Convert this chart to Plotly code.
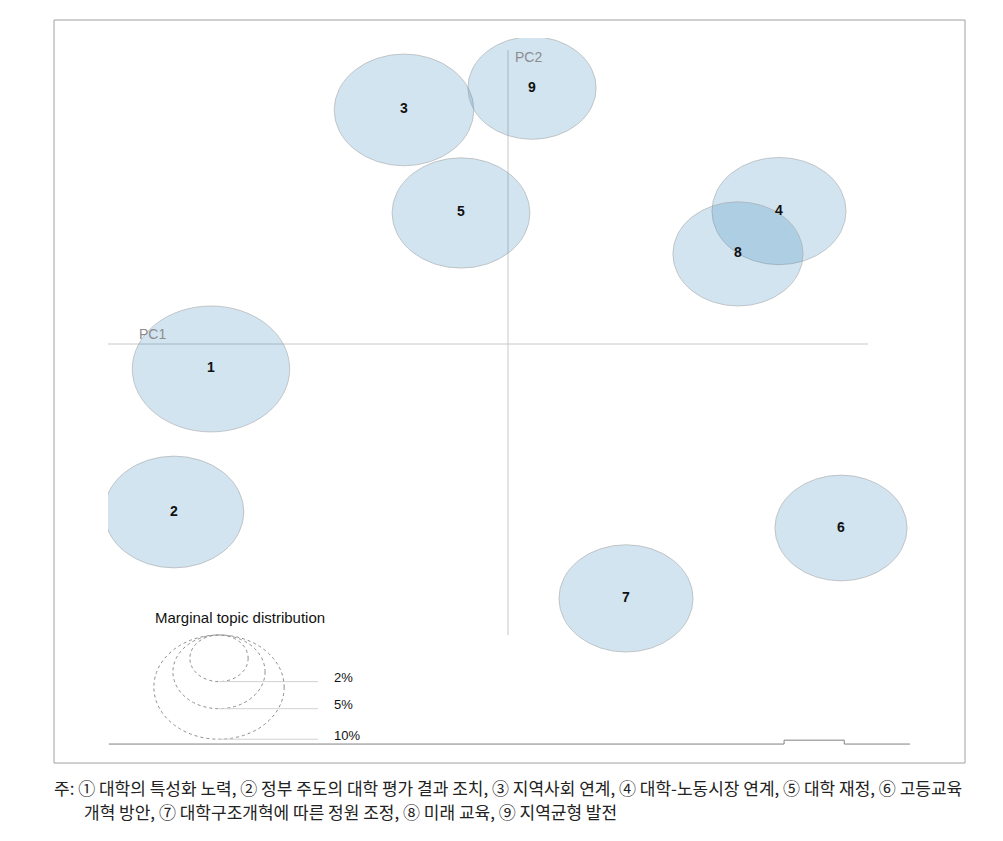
import plotly.graph_objects as go

# ---- data ----
topics = ["1", "2", "3", "4", "5", "6", "7", "8", "9"]
pc1 = [-0.1485, -0.167, -0.052, 0.1355, -0.0235, 0.1665, 0.059, 0.115, 0.012]
pc2 = [-0.0156, -0.105, 0.1463, 0.0831, 0.0819, -0.115, -0.159, 0.0563, 0.160]
marginal_pct = [14.6, 11.5, 11.5, 10.6, 11.2, 10.3, 10.6, 10.0, 9.7]
legend_pct = [2, 5, 10]
legend_labels = ["2%", "5%", "10%"]
caption_lines = [
    "주: ① 대학의 특성화 노력, ② 정부 주도의 대학 평가 결과 조치, ③ 지역사회 연계, ④ 대학-노동시장 연계, ⑤ 대학 재정, ⑥ 고등교육",
    "개혁 방안, ⑦ 대학구조개혁에 따른 정원 조정, ⑧ 미래 교육, ⑨ 지역균형 발전",
]

# ---- style ----
R_SCALE = 0.0103  # radius (data units) per sqrt(percent)
X_RANGE = [-0.2, 0.201]
Y_RANGE = [-0.249375, 0.19125]
FILL = "rgba(31,119,180,0.2)"
EDGE = "rgba(170,170,170,0.6)"
AXIS_GRAY = "rgb(200,200,200)"
LATIN = "Liberation Sans, Arial"

def rad(p):
    return R_SCALE * p ** 0.5

fig = go.Figure()
fig.add_trace(go.Scatter(x=pc1, y=pc2, mode="text", text=["<b>%s</b>" % t for t in topics],
                         textposition="middle center",
                         textfont=dict(family=LATIN, size=14, color="#111"),
                         hoverinfo="skip", showlegend=False, cliponaxis=False))

shapes = []
# PC axes
shapes.append(dict(type="line", xref="x", yref="y", x0=X_RANGE[0], x1=0.18, y0=0, y1=0,
                   line=dict(color=AXIS_GRAY, width=1), layer="below"))
shapes.append(dict(type="line", xref="x", yref="y", x0=0, x1=0, y0=-0.181875, y1=0.18375,
                   line=dict(color=AXIS_GRAY, width=1), layer="below"))

# topic circles
for x, y, p in zip(pc1, pc2, marginal_pct):
    r = rad(p)
    shapes.append(dict(type="circle", xref="x", yref="y", x0=x - r, x1=x + r, y0=y - r, y1=y + r,
                       fillcolor=FILL, line=dict(color=EDGE, width=1), layer="below"))

# legend circles (shared top)
leg_cx = -0.1445
leg_top = -0.181875
leg_line_end = -0.095
annotations = []
for p, lab in zip(legend_pct, legend_labels):
    r = rad(p)
    shapes.append(dict(type="circle", xref="x", yref="y", x0=leg_cx - r, x1=leg_cx + r,
                       y0=leg_top - 2 * r, y1=leg_top,
                       fillcolor="rgba(0,0,0,0)", line=dict(color="rgb(140,140,140)", width=1, dash="dot")))
    yb = leg_top - 2 * r
    shapes.append(dict(type="line", xref="x", yref="y", x0=leg_cx, x1=leg_line_end, y0=yb, y1=yb,
                       line=dict(color="rgb(210,210,210)", width=1)))
    annotations.append(dict(xref="x", yref="y", x=leg_line_end + 0.0072, y=yb + 0.0025, text=lab,
                            showarrow=False, xanchor="left", yanchor="middle",
                            font=dict(family=LATIN, size=13, color="#111")))

annotations.append(dict(xref="x", yref="y", x=-0.1775, y=-0.171, text="Marginal topic distribution",
                        showarrow=False, xanchor="left", yanchor="middle",
                        font=dict(family=LATIN, size=15, color="#111")))

# axis labels
annotations.append(dict(xref="x", yref="y", x=-0.1855, y=0.0063, text="PC1", showarrow=False,
                        xanchor="left", yanchor="middle",
                        font=dict(family=LATIN, size=14, color="rgb(140,140,140)")))
annotations.append(dict(xref="x", yref="y", x=0.0025, y=0.1794, text="PC2", showarrow=False,
                        xanchor="left", yanchor="middle",
                        font=dict(family=LATIN, size=14, color="rgb(140,140,140)")))

# outer box (paper)
shapes.append(dict(type="rect", xref="paper", yref="paper", x0=-0.0673, x1=1.0686, y0=-0.0284, y1=1.0255,
                   line=dict(color="rgb(160,160,160)", width=1), fillcolor="rgba(0,0,0,0)"))
# bottom baseline with slider bump
shapes.append(dict(type="path", xref="paper", yref="paper",
                   path="M 0.001,-0.0015 L 0.843,-0.0015 L 0.843,0.004 L 0.918,0.004 L 0.918,-0.0015 L 1.0,-0.0015",
                   line=dict(color="rgb(130,130,130)", width=1)))

# caption
annotations.append(dict(xref="paper", yref="paper", x=-0.07, y=-0.063, text=caption_lines[0],
                        showarrow=False, xanchor="left", yanchor="middle",
                        font=dict(family="Noto Sans CJK KR", size=17, color="#222")))
annotations.append(dict(xref="paper", yref="paper", x=-0.0324, y=-0.097, text=caption_lines[1],
                        showarrow=False, xanchor="left", yanchor="middle",
                        font=dict(family="Noto Sans CJK KR", size=17, color="#222")))

fig.update_layout(
    width=1003, height=841,
    margin=dict(l=108, r=93, t=38, b=98),
    paper_bgcolor="white", plot_bgcolor="white",
    xaxis=dict(range=X_RANGE, visible=False, fixedrange=True),
    yaxis=dict(range=Y_RANGE, visible=False, fixedrange=True),
    shapes=shapes, annotations=annotations, showlegend=False,
)

fig.write_html("out.html")
